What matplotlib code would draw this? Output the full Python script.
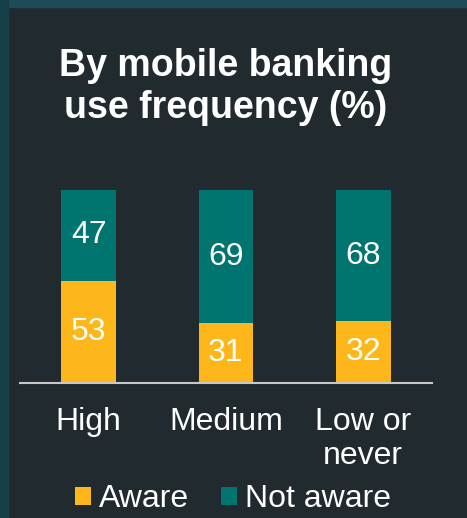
import matplotlib.pyplot as plt
from matplotlib.patches import Rectangle

categories = ['High', 'Medium', 'Low or\nnever']
aware = [53, 31, 32]
not_aware = [47, 69, 68]

YELLOW = '#FDB71A'
TEAL = '#00756F'
BG = '#212B2F'

plt.rcParams['font.family'] = ['Liberation Sans', 'DejaVu Sans']

fig = plt.figure(figsize=(4.67, 5.18), dpi=100)
fig.patch.set_facecolor(BG)

# teal frame strips at top and left
fig.patches.append(Rectangle((0, 1 - 7 / 518), 1, 7 / 518, transform=fig.transFigure,
                             color='#1B4C58', zorder=0))
fig.patches.append(Rectangle((0, 0), 8 / 467, 1, transform=fig.transFigure,
                             color='#163F48', zorder=0))

ax = fig.add_axes([20 / 467, 135 / 518, 412 / 467, 193 / 518])
ax.set_facecolor('none')

x = range(len(categories))
ax.bar(x, aware, width=0.4, color=YELLOW, label='Aware')
ax.bar(x, not_aware, width=0.4, bottom=aware, color=TEAL, label='Not aware')

for i in x:
    ax.text(i, aware[i] / 2, str(aware[i]), ha='center', va='center',
            color='white', fontsize=23)
    ax.text(i, aware[i] + not_aware[i] / 2, str(not_aware[i]), ha='center',
            va='center', color='white', fontsize=23)

ax.set_xlim(-0.5, 2.5)
ax.set_ylim(0, 100)
ax.set_yticks([])
ax.set_xticks(list(x))
ax.set_xticklabels(categories, color='white', fontsize=23, linespacing=1.2)
ax.tick_params(axis='x', length=0, pad=17)
for s in ['top', 'right', 'left']:
    ax.spines[s].set_visible(False)
ax.spines['bottom'].set_color('#C8C8C8')
ax.spines['bottom'].set_linewidth(1.5)

fig.text(226 / 467, 1 - 87 / 518, 'By mobile banking\nuse frequency (%)',
         ha='center', va='center', color='white', fontsize=27,
         fontweight='bold', linespacing=1.2)

leg = fig.legend(loc='center', bbox_to_anchor=(233 / 467, 1 - 499 / 518), ncol=2,
                 frameon=False, fontsize=23, handlelength=0.5, handleheight=0.5,
                 handletextpad=0.25, columnspacing=1.0, borderpad=0)
for t in leg.get_texts():
    t.set_color('white')

fig.savefig('out.png', dpi=100, facecolor=fig.get_facecolor())
